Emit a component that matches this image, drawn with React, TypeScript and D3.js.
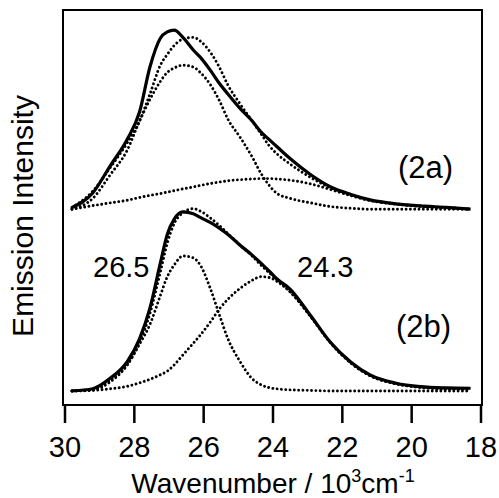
import React from "react";
import * as d3 from "d3";

// wavenumber grid (10^3 cm^-1), shared by all curves
const waveNumbers = [29.8, 29.2, 28.7, 28.2, 27.85, 27.55, 27.25, 27.05, 26.85, 26.6, 26.3, 26.1, 25.8, 25.55, 25.3, 24.95, 24.6, 24.35, 24.1, 23.9, 23.5, 22.9, 22.35, 21.75, 21.2, 20.45, 19.75, 19.0, 18.3];

// (2a) upper panel
const obs2a = [0.01, 0.09, 0.24, 0.39, 0.54, 0.79, 0.95, 0.985, 0.995, 0.955, 0.885, 0.845, 0.77, 0.7, 0.64, 0.56, 0.49, 0.43, 0.385, 0.35, 0.28, 0.19, 0.125, 0.082, 0.052, 0.03, 0.018, 0.01, 0.0];
const fit2a = [0.01, 0.1, 0.23, 0.37, 0.49, 0.64, 0.8, 0.86, 0.91, 0.945, 0.955, 0.935, 0.87, 0.79, 0.69, 0.585, 0.49, 0.42, 0.35, 0.31, 0.25, 0.175, 0.12, 0.08, 0.05, 0.03, 0.018, 0.01, 0.0];
const band1_2a = [0.0, 0.06, 0.19, 0.33, 0.49, 0.61, 0.71, 0.76, 0.785, 0.8, 0.79, 0.76, 0.69, 0.605, 0.5, 0.4, 0.29, 0.2, 0.13, 0.09, 0.06, 0.035, 0.015, 0.005, 0.0, 0.0, 0.0, 0.0, 0.0];
const band2_2a = [0.0, 0.02, 0.035, 0.05, 0.065, 0.077, 0.087, 0.095, 0.103, 0.113, 0.124, 0.132, 0.143, 0.151, 0.158, 0.164, 0.168, 0.17, 0.17, 0.168, 0.161, 0.14, 0.11, 0.075, 0.048, 0.028, 0.015, 0.008, 0.0];

// (2b) lower panel
const obs2b = [0.0, 0.012, 0.07, 0.165, 0.29, 0.46, 0.71, 0.87, 0.955, 0.995, 0.985, 0.965, 0.935, 0.905, 0.87, 0.81, 0.755, 0.71, 0.665, 0.625, 0.565, 0.415, 0.272, 0.16, 0.089, 0.043, 0.024, 0.017, 0.015];
const fit2b = [0.0, 0.01, 0.06, 0.15, 0.27, 0.43, 0.66, 0.82, 0.93, 0.99, 1.013, 1.0, 0.96, 0.92, 0.875, 0.81, 0.75, 0.7, 0.655, 0.62, 0.55, 0.41, 0.27, 0.155, 0.085, 0.04, 0.02, 0.012, 0.01];
const band1_2b = [0.0, 0.005, 0.05, 0.145, 0.26, 0.37, 0.53, 0.635, 0.7, 0.75, 0.74, 0.7, 0.565, 0.425, 0.29, 0.163, 0.068, 0.035, 0.018, 0.012, 0.006, 0.003, 0.0, 0.0, 0.0, 0.0, 0.0, 0.0, 0.0];
const band2_2b = [0.0, 0.003, 0.012, 0.026, 0.045, 0.065, 0.09, 0.11, 0.145, 0.2, 0.265, 0.31, 0.385, 0.455, 0.51, 0.57, 0.615, 0.635, 0.63, 0.61, 0.55, 0.41, 0.27, 0.155, 0.085, 0.04, 0.02, 0.012, 0.01];

const panelOffsets = [1.01, 0];
const xTicks = [30, 28, 26, 24, 22, 20, 18];

const W = 499;
const H = 498;
const font = "'Liberation Sans', Arial, Helvetica, sans-serif";

const App = () => {
  const x = d3.scaleLinear().domain([30, 18]).range([65, 481]);
  const y = d3.scaleLinear().domain([-0.078, 2.117]).range([405, 10]);

  const line = (vals: number[], offset: number) =>
    d3.line<number>()
      .x((d, i) => x(waveNumbers[i]))
      .y(d => y(d + offset))
      .curve(d3.curveMonotoneX)(vals) || "";

  const panels = [
    { obs: obs2a, dotted: [fit2a, band1_2a, band2_2a], off: panelOffsets[0] },
    { obs: obs2b, dotted: [fit2b, band1_2b, band2_2b], off: panelOffsets[1] },
  ];

  return (
    <svg width={W} height={H} style={{ position: "absolute", left: 0, top: 0, background: "#fff" }} fontFamily={font}>
      <rect x={0} y={0} width={W} height={H} fill="#fff" />
      {panels.map((p, k) => (
        <g key={k}>
          {p.dotted.map((vals, j) => (
            <path key={j} d={line(vals, p.off)} fill="none" stroke="#000" strokeWidth={2.9}
              strokeDasharray="0.01 4.3" strokeLinecap="round" />
          ))}
          <path d={line(p.obs, p.off)} fill="none" stroke="#000" strokeWidth={3.2} strokeLinejoin="round" />
        </g>
      ))}

      {/* frame */}
      <rect x={63} y={10} width={419} height={395} fill="none" stroke="#000" strokeWidth={2} />

      {/* x axis ticks */}
      {xTicks.map(t => (
        <g key={t}>
          <line x1={x(t)} x2={x(t)} y1={405} y2={423} stroke="#000" strokeWidth={2.5} />
          <text x={x(t)} y={457} textAnchor="middle" fontSize={29}>{t}</text>
        </g>
      ))}

      <text x={273} y={493} textAnchor="middle" fontSize={28}>
        Wavenumber / 10<tspan fontSize={18} dy={-11}>3</tspan><tspan dy={11}>cm</tspan><tspan fontSize={18} dy={-11}>-1</tspan>
      </text>

      <text transform="translate(33,216) rotate(-90)" textAnchor="middle" fontSize={30}>Emission Intensity</text>

      <text x={398} y={178} fontSize={31}>(2a)</text>
      <text x={396} y={337} fontSize={31}>(2b)</text>
      <text x={93} y={277} fontSize={29}>26.5</text>
      <text x={297} y={277} fontSize={29}>24.3</text>
    </svg>
  );
};

export default App;
